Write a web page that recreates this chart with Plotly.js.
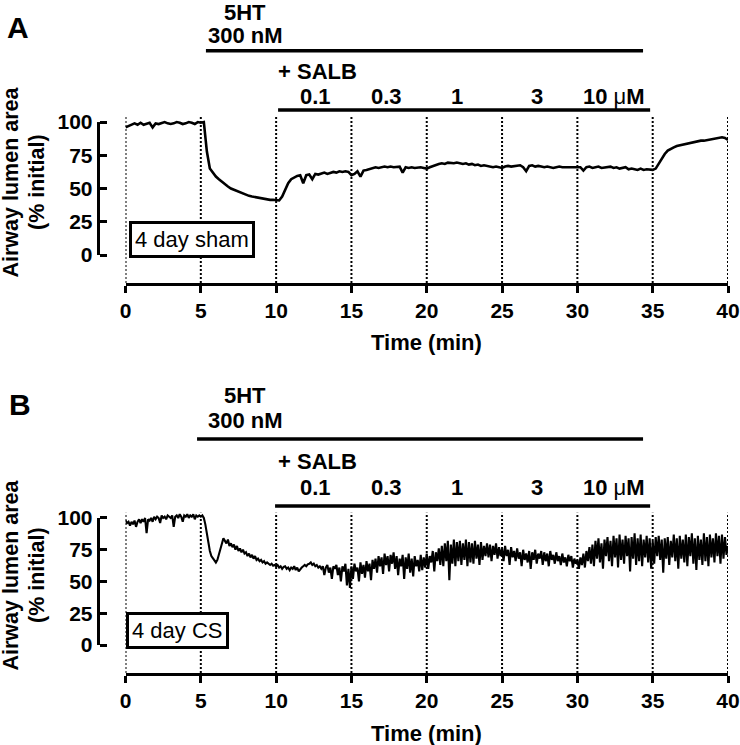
<!DOCTYPE html>
<html>
<head>
<meta charset="utf-8">
<script src="https://cdn.plot.ly/plotly-3.0.1.min.js"></script>
<style>html,body{margin:0;padding:0;background:#fff;}#chart{width:740px;height:745px;}</style>
</head>
<body>
<div id="chart"></div>
<script>
// ---- data ----
// Panel A: 4 day sham, sampled every 0.2 min from 0 to 40 min
var stepA = 0.2;
var valuesA = [
  96, 97, 98.5, 99, 98, 99.5, 98, 99, 99.5, 96,
  99, 98.5, 99.5, 100, 99, 98.5, 99, 100, 99.5, 98.5,
  99, 100, 99.5, 98.5, 100, 99.5, 100, 78, 65, 61.5,
  59, 57, 55, 53, 51.5, 50, 49, 48, 47, 46.5,
  45.5, 44.5, 44, 43.5, 43, 42.5, 42.5, 42, 41.5, 41.5,
  41.5, 41, 44, 49, 54, 57, 58.5, 59.5, 60, 54,
  60, 60.5, 57, 61, 60.5, 61.5, 62, 61, 62, 62.5,
  62, 63, 62.5, 63, 62.5, 60, 61, 63, 59, 63.5,
  64, 64.5, 65, 66, 65.5, 66, 66.5, 66, 66.5, 66,
  66, 66.5, 62, 66, 65.5, 66, 65.5, 66, 66, 65.5,
  65, 66, 67, 68, 68.5, 69, 68.5, 69.5, 69, 69,
  69.5, 69, 68.5, 69, 68, 68.5, 67.5, 68, 67, 67.5,
  67, 66.5, 66, 66.5, 66, 65.5, 66.5, 67, 66.5, 67,
  67, 67.5, 66, 63, 67, 67.5, 66.5, 67, 66.5, 66,
  66.5, 66, 65.5, 66, 66.5, 66, 66, 65.5, 66, 66,
  65.5, 66, 63.5, 66, 66.5, 65.5, 66, 66.5, 65.5, 66,
  66, 66.5, 65.5, 66, 65, 65.5, 66, 64.5, 65, 64.5,
  64, 65, 64, 64.5, 64, 64, 65, 69, 73, 76,
  78.5, 80, 81, 82, 82.5, 83, 84, 84.5, 84.5, 85,
  85.5, 86, 86, 86.5, 87, 87, 87.5, 88, 88.5, 88,
  86.5
];
// Panel B: 4 day CS, sampled every 0.1 min from 0 to 40 min
var stepB = 0.1;
var valuesB = [
  98, 96, 97, 94, 97, 95, 98, 93, 97, 99,
  96, 99, 97, 100, 88, 99, 98, 100, 97, 101,
  99, 101, 100, 96, 102, 100, 101, 99, 102, 101,
  100, 102, 93, 101, 102, 100, 103, 101, 97, 102,
  101, 103, 100, 102, 101, 103, 99, 102, 101, 102,
  101, 102, 100, 95, 87, 80, 74, 70, 68, 66,
  65, 67, 71, 76, 80, 84, 82, 80, 83, 78,
  80, 77, 79, 75, 78, 74, 76, 73, 75, 72,
  73, 70, 72, 69, 71, 68, 70, 67, 68, 66,
  67, 65, 66, 64, 65, 64, 63, 64, 62.5, 63,
  62, 63, 61, 62, 60, 61.5, 62, 60, 61, 59,
  61, 60, 62, 59, 61, 58, 60, 61, 62, 63,
  62, 63.5, 64, 65, 63, 64, 62, 63, 61, 62,
  60, 62, 55, 61, 63, 57, 61, 52, 62, 60,
  63, 55, 61, 50, 62, 58, 64, 47, 60, 45,
  62, 52, 64, 58, 61, 50, 65, 56, 63, 53,
  66, 58, 64, 51, 67, 60, 68, 57, 70, 62,
  69, 56, 72, 63, 70, 58, 71, 64, 73, 60,
  70, 55, 68, 62, 71, 52, 69, 60, 72, 57,
  68, 54, 70, 62, 67, 58, 71, 59, 69, 61,
  72, 60, 70, 65, 74, 58, 73, 66, 76, 63,
  78, 62, 80, 66, 82, 51, 79, 64, 83, 62,
  81, 66, 82, 63, 80, 67, 83, 62, 81, 65,
  80, 64, 82, 68, 79, 63, 81, 67, 78, 70,
  80, 69, 79, 66, 78, 71, 80, 68, 77, 70,
  76, 66, 78, 70, 75, 63, 77, 69, 74, 66,
  76, 68, 73, 62, 75, 67, 72, 65, 74, 60,
  73, 67, 75, 64, 72, 68, 74, 63, 73, 66,
  72, 62, 74, 67, 71, 64, 73, 66, 70, 63,
  72, 65, 69, 62, 71, 66, 70, 61, 68, 64,
  67, 60, 69, 63, 72, 61, 74, 66, 77, 64,
  79, 62, 82, 68, 84, 65, 80, 60, 83, 70,
  85, 66, 82, 62, 86, 69, 84, 61, 87, 67,
  83, 64, 86, 70, 84, 58, 85, 68, 88, 63,
  84, 66, 87, 62, 83, 69, 86, 65, 84, 60,
  82, 64, 85, 70, 86, 67, 83, 57, 84, 68,
  85, 63, 82, 69, 87, 66, 84, 60, 86, 68,
  83, 65, 87, 62, 85, 70, 88, 64, 84, 59,
  86, 67, 83, 63, 88, 66, 85, 62, 87, 69,
  84, 65, 88, 70, 86, 64, 87, 68, 85, 71,
  78
];
var xTicks = [0, 5, 10, 15, 20, 25, 30, 35, 40];
var yTicks = [0, 25, 50, 75, 100];
var yTickLabels = ['0', '25', '50', '75', '100'];
var markerTimes = [0, 5, 10, 15, 20, 25, 30, 35, 40];
var doseLabels = ['0.1', '0.3', '1', '3', '<b>10 </b>μ<b>M</b>'];
var doseCentres = [12.6, 17.3, 22.0, 27.3, 32.4];
var panelLetters = ['A', 'B'];
var boxLabels = ['4 day sham', '4 day CS'];

// ---- build ----
var W = 740, H = 745;
function px(x) { return x / W; }
function py(y) { return 1 - y / H; }
function times(n, step) { var t = []; for (var i = 0; i < n; i++) t.push(+(i * step).toFixed(2)); return t; }

var FONT = 'Liberation Sans, Arial, Helvetica, sans-serif';

var traces = [
  {x: times(valuesA.length, stepA), y: valuesA, type: 'scatter', mode: 'lines',
   line: {color: '#000', width: 2.6}, xaxis: 'x', yaxis: 'y', hoverinfo: 'skip'},
  {x: times(valuesB.length, stepB), y: valuesB, type: 'scatter', mode: 'lines',
   line: {color: '#000', width: 2.1}, xaxis: 'x2', yaxis: 'y2', hoverinfo: 'skip'}
];

var xDom = [px(125.5), px(728)];
var panels = [
  {xa: 'x', ya: 'y', yr: [-21.05, 105.3], dom: [py(283), py(115)],
   top1: 12, top2: 35, bar1: 50.7, bar1x: [5.34, 34.36], salb: 71, dose: 96, bar2: 110, bar2x: [10.13, 34.83],
   letterY: 27.5, letterX: 18, titleY: 343, yTitleY: 182, box: [192, 239.5]},
  {xa: 'x2', ya: 'y2', yr: [-22.05, 104.72], dom: [py(673), py(512)],
   top1: 395, top2: 420, bar1: 439, bar1x: [4.75, 34.36], salb: 462, dose: 487, bar2: 506, bar2x: [9.93, 34.83],
   letterY: 404, letterX: 20, titleY: 733, yTitleY: 575, box: [177, 630]}
];

var shapes = [], annotations = [];
var layout = {
  width: W, height: H, margin: {l: 0, r: 0, t: 0, b: 0},
  paper_bgcolor: '#fff', plot_bgcolor: 'rgba(0,0,0,0)', showlegend: false,
  font: {family: FONT, color: '#000'}
};

panels.forEach(function (p, i) {
  var xKey = i === 0 ? 'xaxis' : 'xaxis2';
  var yKey = i === 0 ? 'yaxis' : 'yaxis2';
  layout[xKey] = {
    domain: xDom, range: [0, 40], anchor: p.ya, tickvals: xTicks,
    showline: true, linewidth: 3, linecolor: '#000', ticks: 'outside', ticklen: 7, tickwidth: 3, tickcolor: '#000',
    showgrid: false, zeroline: false, fixedrange: true,
    tickfont: {family: FONT, size: 21, weight: 'bold', color: '#000'}
  };
  layout[yKey] = {
    domain: p.dom, range: p.yr, anchor: 'free', position: px(98.5),
    tickvals: yTicks, ticktext: yTickLabels,
    showline: false, ticks: 'inside', ticklen: 7, tickwidth: 3, tickcolor: '#000',
    ticklabelstandoff: 6,
    showgrid: false, zeroline: false, fixedrange: true,
    tickfont: {family: FONT, size: 21, weight: 'bold', color: '#000'}
  };
  // y axis spine from 0 to 100
  shapes.push({type: 'line', xref: 'paper', yref: p.ya, x0: px(98.5), x1: px(98.5), y0: 0, y1: 100,
               line: {color: '#000', width: 3}});
  // dotted time markers
  markerTimes.forEach(function (t) {
    shapes.push({type: 'line', xref: p.xa, yref: p.ya, x0: t, x1: t, y0: p.yr[0], y1: p.yr[1] - 0.5,
                 line: {color: '#000', width: 2, dash: '2px,2px'}});
  });
  // treatment bars
  shapes.push({type: 'line', xref: p.xa, yref: 'paper', x0: p.bar1x[0], x1: p.bar1x[1], y0: py(p.bar1), y1: py(p.bar1),
               line: {color: '#000', width: 3.5}});
  shapes.push({type: 'line', xref: p.xa, yref: 'paper', x0: p.bar2x[0], x1: p.bar2x[1], y0: py(p.bar2), y1: py(p.bar2),
               line: {color: '#000', width: 3.5}});

  var bold = {family: FONT, size: 22, weight: 'bold', color: '#000'};
  function ann(text, x, xref, y, font, extra) {
    var a = {text: text, x: x, xref: xref, y: py(y), yref: 'paper', showarrow: false,
             xanchor: 'center', yanchor: 'middle', font: font};
    for (var k in (extra || {})) a[k] = extra[k];
    annotations.push(a);
  }
  ann(panelLetters[i], px(p.letterX), 'paper', p.letterY, {family: FONT, size: 30, weight: 'bold', color: '#000'});
  ann('5HT', px(245), 'paper', p.top1, bold);
  ann('300 nM', px(245), 'paper', p.top2, bold);
  ann('+ SALB', px(317), 'paper', p.salb, bold);
  doseLabels.forEach(function (d, k) {
    ann(d, doseCentres[k], p.xa, p.dose, {family: FONT, size: 22, weight: k === 4 ? 'normal' : 'bold', color: '#000'});
  });
  ann('Time (min)', px(426.75), 'paper', p.titleY, bold);
  ann('Airway lumen area', px(10.5), 'paper', p.yTitleY, {family: FONT, size: 21.5, weight: 'bold', color: '#000'}, {textangle: -90});
  ann('(% initial)', px(37), 'paper', p.yTitleY, {family: FONT, size: 21.5, weight: 'bold', color: '#000'}, {textangle: -90});
  ann(boxLabels[i], px(p.box[0]), 'paper', p.box[1], {family: FONT, size: 22, color: '#000'},
      {bordercolor: '#000', borderwidth: 3, borderpad: 3, bgcolor: '#fff'});
});

layout.shapes = shapes;
layout.annotations = annotations;

Plotly.newPlot('chart', traces, layout, {staticPlot: true, displayModeBar: false});
</script>
</body>
</html>
